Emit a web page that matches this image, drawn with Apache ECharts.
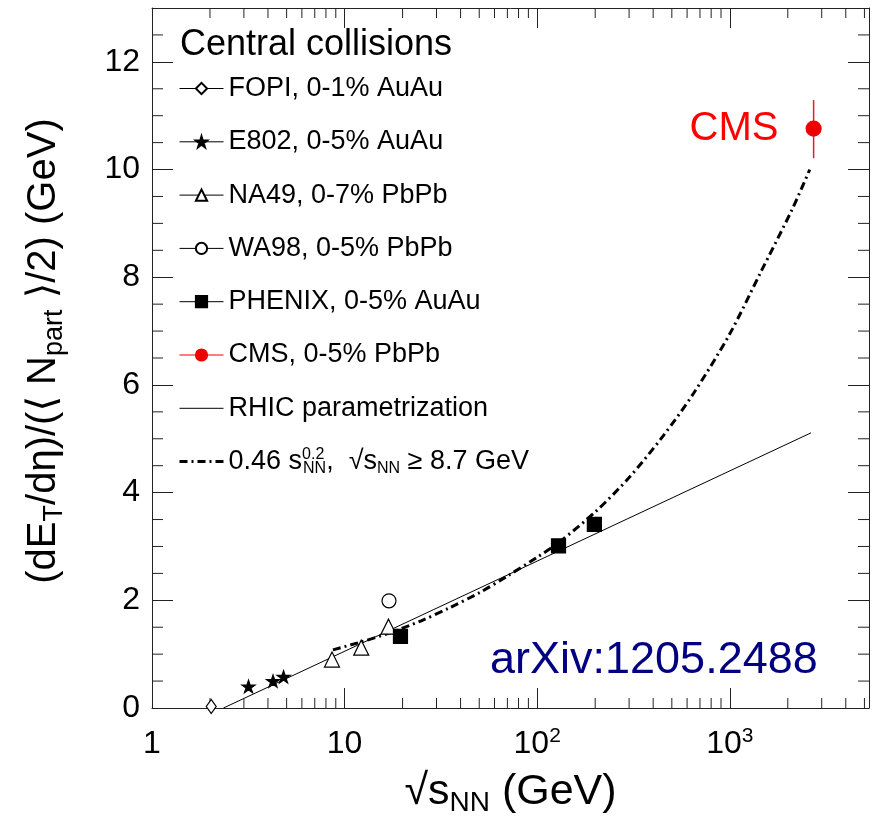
<!DOCTYPE html>
<html><head><meta charset="utf-8">
<script src="https://cdn.jsdelivr.net/npm/echarts@6/dist/echarts.min.js"></script>
<style>html,body{margin:0;padding:0;background:#fff}#c{width:874px;height:826px}</style>
</head><body><div id="c"></div>
<script>
// ---- data ----
const xTickLabels = ['1', '10', '10{sup|2}', '10{sup|3}'];
const yTickValues = [0, 2, 4, 6, 8, 10, 12];
const xMinorTicks = [2,3,4,5,6,7,8,9,20,30,40,50,60,70,80,90,200,300,400,500,600,700,800,900,2000,3000,4000,5000];
const yMinorTicks = [0.5,1,1.5,2.5,3,3.5,4.5,5,5.5,6.5,7,7.5,8.5,9,9.5,10.5,11,11.5,12.5];

const fopiX = [2.03], fopiY = [0.03];
const e802X = [3.17, 4.25, 4.82], e802Y = [0.40, 0.50, 0.58];
const na49X = [8.6, 12.2, 16.9], na49Y = [0.90, 1.12, 1.51];
const wa98X = [17.0], wa98Y = [1.99];
const phenixX = [19.5, 129, 198], phenixY = [1.33, 3.01, 3.41];
const cmsX = [2723], cmsY = [10.76], cmsLo = [10.21], cmsHi = [11.29];
const rhicX = [2.35, 2640], rhicY = [0, 5.11];
const powX = [8.7, 12, 17, 25, 35, 50, 70, 100, 130, 200, 300, 450, 650, 1000, 1450, 2100, 2600];
const powY = [1.08, 1.22, 1.39, 1.62, 1.86, 2.14, 2.45, 2.80, 3.08, 3.64, 4.28, 5.05, 5.85, 6.95, 8.10, 9.25, 10.0];

const names = ['FOPI, 0-1% AuAu','E802, 0-5% AuAu','NA49, 0-7% PbPb','WA98, 0-5% PbPb','PHENIX, 0-5% AuAu','CMS, 0-5% PbPb','RHIC parametrization','0.46 s^0.2'];

const X_MIN = 1, X_MAX = 5280, Y_MIN = 0, Y_MAX = 13;
const FONT = "'Liberation Sans', Arial, 'DejaVu Sans', sans-serif";
const AX = '#222';

function pts(xs, ys) { return xs.map((x, i) => [x, ys[i]]); }
const starPath = 'path://M50,0 L61.2,34.5 L97.6,34.5 L68.2,55.9 L79.4,90.5 L50,69.1 L20.6,90.5 L31.8,55.9 L2.4,34.5 L38.8,34.5 Z';

function markerSeries(name, xs, ys, symbol, size, fill, stroke, extra) {
  return Object.assign({
    name, type: 'line', data: pts(xs, ys), symbol, symbolSize: size, showSymbol: true,
    symbolKeepAspect: true,
    lineStyle: { opacity: 0, color: stroke, width: 1 },
    itemStyle: { color: fill, borderColor: stroke, borderWidth: 1.2, opacity: 1 },
    z: 5, silent: true, animation: false
  }, extra || {});
}

const chart = echarts.init(document.getElementById('c'), null, { renderer: 'canvas' });

const xAxisCommon = {
  type: 'log', logBase: 10, min: X_MIN, max: X_MAX,
  axisLine: { show: true, onZero: false, lineStyle: { color: AX, width: 1 } },
  axisTick: { show: true, inside: true, length: 20, lineStyle: { color: AX, width: 1 } },
  splitLine: { show: false }, minorTick: { show: false }, minorSplitLine: { show: false }
};
const yAxisCommon = {
  type: 'value', min: Y_MIN, max: Y_MAX, interval: 2,
  axisLine: { show: true, onZero: false, lineStyle: { color: AX, width: 1 } },
  axisTick: { show: true, inside: true, length: 21, lineStyle: { color: AX, width: 1 } },
  splitLine: { show: false }, minorTick: { show: false }
};

function tickSeries(values, isX) {
  return {
    type: 'custom', silent: true, clip: false, z: 3, animation: false,
    xAxisIndex: 0, yAxisIndex: 0,
    data: values.map(v => isX ? [v, Y_MIN] : [X_MIN, v]),
    encode: { x: 0, y: 1 },
    renderItem: (params, api) => {
      const st = { stroke: AX, lineWidth: 1 };
      if (isX) {
        const v = api.value(0);
        const b = api.coord([v, Y_MIN]), t = api.coord([v, Y_MAX]);
        return { type: 'group', children: [
          { type: 'line', shape: { x1: b[0], y1: b[1], x2: b[0], y2: b[1] - 10 }, style: st },
          { type: 'line', shape: { x1: t[0], y1: t[1], x2: t[0], y2: t[1] + 10 }, style: st }
        ]};
      } else {
        const v = api.value(1);
        const l = api.coord([X_MIN, v]), r = api.coord([X_MAX, v]);
        return { type: 'group', children: [
          { type: 'line', shape: { x1: l[0], y1: l[1], x2: l[0] + 11, y2: l[1] }, style: st },
          { type: 'line', shape: { x1: r[0], y1: r[1], x2: r[0] - 11, y2: r[1] }, style: st }
        ]};
      }
    }
  };
}

const option = {
  animation: false,
  backgroundColor: '#fff',
  grid: { left: 152, right: 5, top: 8, bottom: 118, containLabel: false, outerBoundsMode: 'none' },
  xAxis: [
    Object.assign({}, xAxisCommon, {
      position: 'bottom',
      name: '√{s|s}{sub|NN} (GeV)', nameLocation: 'middle', nameGap: 59,
      nameTextStyle: { fontFamily: FONT, fontSize: 43, color: '#000', lineHeight: 50,
        rich: { s: { fontFamily: FONT, fontSize: 43, lineHeight: 50 },
                sub: { fontFamily: FONT, fontSize: 28, verticalAlign: 'bottom', lineHeight: 20 } } },
      axisLabel: {
        show: true, margin: 18, color: '#000', fontFamily: FONT, fontSize: 32, lineHeight: 36,
        showMinLabel: true, showMaxLabel: true,
        formatter: v => { const e = Math.log10(v), r = Math.round(e); if (Math.abs(e - r) > 1e-6) return ''; return xTickLabels[r] || ''; },
        rich: { sup: { fontFamily: FONT, fontSize: 21, verticalAlign: 'top', lineHeight: 18, color: '#000' } }
      }
    }),
    Object.assign({}, xAxisCommon, { position: 'top', axisLabel: { show: false } })
  ],
  yAxis: [
    Object.assign({}, yAxisCommon, {
      position: 'left',
      name: '(dE{sub|T}/dη)/(⟨ N{sub|part} ⟩/2) (GeV)', nameLocation: 'middle', nameRotate: 90, nameGap: 84,
      nameTextStyle: { fontFamily: FONT, fontSize: 40, color: '#000', lineHeight: 48, padding: [0, 0, 0, 14],
        rich: { sub: { fontFamily: FONT, fontSize: 27, verticalAlign: 'bottom', lineHeight: 8 } } },
      axisLabel: { show: true, margin: 12, color: '#000', fontFamily: FONT, fontSize: 32,
        formatter: v => (yTickValues.indexOf(v) >= 0 ? String(v) : '') }
    }),
    Object.assign({}, yAxisCommon, { position: 'right', axisLabel: { show: false } })
  ],
  legend: {
    orient: 'vertical', left: 178, top: 73.5, padding: 0,
    itemWidth: 44, itemHeight: 14, itemGap: 23.3, selectedMode: false,
    textStyle: { fontFamily: FONT, fontSize: 27, color: '#000', lineHeight: 30,
      rich: {
        sup: { fontFamily: FONT, fontSize: 16, verticalAlign: 'top', lineHeight: 16, width: 1 },
        sub: { fontFamily: FONT, fontSize: 16, verticalAlign: 'bottom', lineHeight: 14 }
      } },
    formatter: n => n === names[7] ? '0.46 s{sup|0.2}{sub|NN},  √s{sub|NN} ≥ 8.7 GeV' : n,
    data: names.map((n, i) => ({
      name: n,
      itemStyle: i >= 6 ? { opacity: 0 } : {},
      lineStyle: i === 7 ? { opacity: 1, width: 3, color: '#000', type: [8, 4, 2, 4] }
               : { opacity: 1, width: 1, color: i === 5 ? '#ee0000' : '#000', type: 'solid' }
    }))
  },
  graphic: [
    { type: 'text', left: 180, top: 27, silent: true,
      style: { text: 'Central collisions', fontFamily: FONT, fontSize: 36, fill: '#000' } },
    { type: 'text', left: 490, top: 638, silent: true,
      style: { text: 'arXiv:1205.2488', fontFamily: FONT, fontSize: 45, fill: '#000080' } }
  ],
  series: [
    markerSeries(names[0], fopiX, fopiY, 'diamond', [10, 14], '#fff', '#000'),
    markerSeries(names[1], e802X, e802Y, starPath, 13, '#000', '#000'),
    markerSeries(names[2], na49X, na49Y, 'triangle', 15, '#fff', '#000'),
    markerSeries(names[3], wa98X, wa98Y, 'circle', 14, '#fff', '#000'),
    markerSeries(names[4], phenixX, phenixY, 'rect', 14, '#000', '#000'),
    markerSeries(names[5], cmsX, cmsY, 'circle', 15, '#ee0000', '#ee0000', {
      label: { show: true, position: 'left', distance: 27, formatter: 'CMS',
        color: '#ff0000', fontFamily: FONT, fontSize: 40 }
    }),
    { name: names[6], type: 'line', data: pts(rhicX, rhicY), symbol: 'none', silent: true,
      lineStyle: { color: '#000', width: 1 }, itemStyle: { color: '#000' }, z: 2 },
    { name: names[7], type: 'line', data: pts(powX, powY), symbol: 'none', smooth: 0.3, silent: true,
      lineStyle: { color: '#000', width: 3, type: [8, 4, 2, 4] }, itemStyle: { color: '#000' }, z: 2 },
    { type: 'custom', silent: true, z: 4, animation: false, xAxisIndex: 0, yAxisIndex: 0,
      data: cmsX.map((x, i) => [x, cmsLo[i], cmsHi[i]]), encode: { x: 0, y: [1, 2] },
      renderItem: (params, api) => {
        const a = api.coord([api.value(0), api.value(1)]), b = api.coord([api.value(0), api.value(2)]);
        return { type: 'line', shape: { x1: a[0], y1: a[1], x2: b[0], y2: b[1] }, style: { stroke: '#dd2222', lineWidth: 1.5 } };
      } },
    tickSeries(xMinorTicks, true),
    tickSeries(yMinorTicks, false)
  ]
};
chart.setOption(option);
</script></body></html>
